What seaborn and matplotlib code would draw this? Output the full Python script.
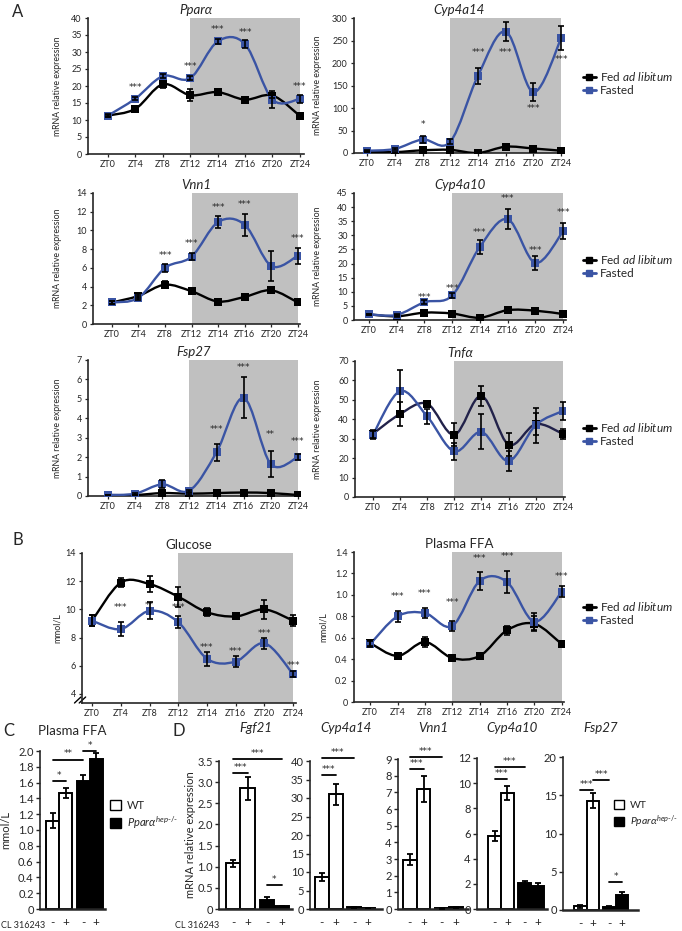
import numpy as np
import pandas as pd
import matplotlib
matplotlib.use("Agg")
import matplotlib.pyplot as plt
from matplotlib.path import Path
from matplotlib.patches import PathPatch, Patch
from matplotlib.lines import Line2D
import seaborn as sns

sns.set_style("ticks")
plt.rcParams['font.family'] = ['Lato', 'DejaVu Sans']
plt.rcParams['mathtext.fontset'] = 'custom'
plt.rcParams['mathtext.rm'] = 'Lato'
plt.rcParams['mathtext.it'] = 'Lato:italic'
NARROW = ['Liberation Sans Narrow', 'Lato', 'DejaVu Sans']
STAR_FONT = ['DejaVu Sans']

W, H = 682, 931
BLUE = '#3a54a4'
GREY = '#c0c0c0'

# ---------------- data: time courses (A, B) ----------------
zt = ['ZT0', 'ZT4', 'ZT8', 'ZT12', 'ZT14', 'ZT16', 'ZT20', 'ZT24']

ppara_fed = [11.3, 13.3, 20.5, 17.3, 18.2, 16.0, 17.2, 11.2]
ppara_fed_err = [0.4, 0.7, 1.0, 1.8, 0.5, 0.4, 0.8, 0.6]
ppara_fast = [11.3, 16.3, 22.9, 22.3, 33.1, 32.3, 16.0, 16.2]
ppara_fast_err = [0.3, 0.5, 0.6, 0.6, 0.8, 1.2, 2.5, 1.3]
ppara_stars = ['', '***', '', '***', '***', '***', '', '***']
ppara_star_y = [0, 19.6, 0, 25.7, 36.5, 35.6, 0, 20.0]

cyp14_fed = [3, 2, 6, 7, 0, 14, 10, 5]
cyp14_fed_err = [1, 1, 2, 2, 1, 3, 2, 2]
cyp14_fast = [5, 9, 30, 25, 172, 270, 135, 255]
cyp14_fast_err = [2, 3, 8, 6, 18, 22, 20, 27]
cyp14_stars = ['', '', '*', '', '***', '***', '***', '***']
cyp14_star_y = [0, 0, 63, 0, 224, 224, 100, 207]

vnn1_fed = [2.3, 3.0, 4.2, 3.5, 2.4, 2.9, 3.6, 2.3]
vnn1_fed_err = [0.15, 0.2, 0.4, 0.2, 0.2, 0.3, 0.2, 0.2]
vnn1_fast = [2.3, 2.8, 6.0, 7.2, 10.9, 10.6, 6.2, 7.3]
vnn1_fast_err = [0.15, 0.2, 0.4, 0.4, 0.6, 1.2, 1.6, 0.85]
vnn1_stars = ['', '', '***', '***', '***', '***', '', '***']
vnn1_star_y = [0, 0, 7.3, 8.6, 12.5, 12.8, 0, 9.1]

cyp10_fed = [2.0, 1.3, 2.6, 2.3, 0.8, 3.5, 3.3, 2.1]
cyp10_fed_err = [0.3, 0.3, 0.4, 0.4, 0.3, 0.5, 0.5, 0.4]
cyp10_fast = [2.0, 1.8, 6.3, 8.7, 26.0, 35.7, 20.2, 31.5]
cyp10_fast_err = [0.3, 0.4, 0.8, 1.0, 2.5, 3.5, 2.5, 2.8]
cyp10_stars = ['', '', '***', '***', '***', '***', '***', '***']
cyp10_star_y = [0, 0, 8.0, 11.2, 31.0, 43.0, 24.8, 38.0]

fsp27_fed = [0.05, 0.05, 0.15, 0.12, 0.15, 0.18, 0.15, 0.05]
fsp27_fed_err = [0.02, 0.02, 0.1, 0.05, 0.05, 0.06, 0.06, 0.03]
fsp27_fast = [0.05, 0.12, 0.6, 0.28, 2.25, 5.05, 1.65, 2.0]
fsp27_fast_err = [0.02, 0.05, 0.2, 0.05, 0.45, 1.05, 0.65, 0.15]
fsp27_stars = ['', '', '', '', '***', '***', '**', '***']
fsp27_star_y = [0, 0, 0, 0, 3.43, 6.62, 3.14, 2.8]

tnfa_fed = [32.5, 42.7, 48.0, 32.0, 52.0, 27.0, 37.5, 32.5]
tnfa_fed_err = [2, 6, 1.5, 6, 5, 6, 5.5, 2.5]
tnfa_fast = [32.0, 54.5, 41.5, 23.5, 33.5, 18.5, 37.0, 44.3]
tnfa_fast_err = [2, 11, 4, 4.5, 9, 5, 9, 4.5]
tnfa_stars = [''] * 8
tnfa_star_y = [0] * 8

glc_fed = [9.2, 11.9, 11.8, 10.9, 9.8, 9.5, 10.0, 9.2]
glc_fed_err = [0.4, 0.3, 0.6, 0.7, 0.3, 0.2, 0.7, 0.4]
glc_fast = [9.2, 8.6, 9.9, 9.1, 6.5, 6.3, 7.6, 5.4]
glc_fast_err = [0.4, 0.5, 0.6, 0.4, 0.5, 0.4, 0.4, 0.2]
glc_stars = ['', '***', '**', '***', '***', '***', '***', '***']
glc_star_y = [0, 10.1, 10.3, 10.1, 7.3, 7.0, 8.3, 6.0]

ffa_fed = [0.55, 0.43, 0.56, 0.41, 0.43, 0.67, 0.73, 0.54]
ffa_fed_err = [0.03, 0.02, 0.05, 0.02, 0.02, 0.04, 0.07, 0.03]
ffa_fast = [0.54, 0.80, 0.83, 0.71, 1.13, 1.12, 0.75, 1.03]
ffa_fast_err = [0.03, 0.05, 0.05, 0.05, 0.08, 0.10, 0.08, 0.05]
ffa_stars = ['', '***', '***', '***', '***', '***', '', '***']
ffa_star_y = [0, 0.98, 1.01, 0.93, 1.34, 1.36, 0, 1.17]

# ---------------- data: bar charts (C, D) ----------------
geno = ['WT', 'WT', 'KO', 'KO']
cl = ['-', '+', '-', '+']

c_ffa = [1.12, 1.47, 1.62, 1.90]
c_ffa_err = [0.10, 0.06, 0.07, 0.07]
c_ffa_sig = [(0, 1, 1.62, '*'), (0, 2, 1.89, '**'), (2, 3, 2.0, '*')]

fgf21 = [1.08, 2.85, 0.22, 0.06]
fgf21_err = [0.08, 0.27, 0.07, 0.02]
fgf21_sig = [(0, 1, 3.22, '***'), (0, 3, 3.55, '***'), (2, 3, 0.57, '*')]

d_cyp14 = [8.6, 31.0, 0.5, 0.3]
d_cyp14_err = [1.0, 2.8, 0.1, 0.1]
d_cyp14_sig = [(0, 1, 36.2, '***'), (0, 2, 40.8, '***')]

d_vnn1 = [2.95, 7.2, 0.05, 0.1]
d_vnn1_err = [0.33, 0.8, 0.02, 0.03]
d_vnn1_sig = [(0, 1, 8.4, '***'), (0, 2, 9.1, '***')]

d_cyp10 = [5.8, 9.25, 2.1, 1.85]
d_cyp10_err = [0.4, 0.55, 0.1, 0.2]
d_cyp10_sig = [(0, 1, 10.3, '***'), (0, 2, 11.3, '***')]

d_fsp27 = [0.5, 14.3, 0.4, 1.9]
d_fsp27_err = [0.2, 1.0, 0.1, 0.4]
d_fsp27_sig = [(0, 1, 15.7, '***'), (1, 2, 17.0, '***'), (2, 3, 3.6, '*')]

fig = plt.figure(figsize=(W / 100, H / 100), dpi=100)


def px_axes(x0, y0, x1, y1):
    return fig.add_axes([x0 / W, 1 - y1 / H, (x1 - x0) / W, (y1 - y0) / H])


def smooth_line(ax, xs, ys, color, lw=1.7):
    # Excel style smoothed connector through the measured points
    pts = np.column_stack([xs, ys]).astype(float)
    verts = [pts[0]]
    codes = [Path.MOVETO]
    for i in range(len(pts) - 1):
        p0 = pts[i - 1] if i > 0 else pts[i]
        p3 = pts[i + 2] if i + 2 < len(pts) else pts[i + 1]
        verts += [pts[i] + (pts[i + 1] - p0) / 6, pts[i + 1] - (p3 - pts[i]) / 6, pts[i + 1]]
        codes += [Path.CURVE4] * 3
    ax.add_patch(PathPatch(Path(verts, codes), fill=False, edgecolor=color, lw=lw, zorder=3))


def fmt_tick(v, dec):
    return '0' if v == 0 else f'{v:.{dec}f}'


def time_panel(box, xlim, title, fed, fed_err, fast, fast_err, ylim, ystep, stars, star_y,
               ylabel, ylab_px, dec=0, italic=True, fed_line='black', tick_fs=6.5):
    ax = px_axes(*box)
    x = np.arange(len(zt))
    ax.axvspan(3, 7, color=GREY, lw=0, zorder=0)
    smooth_line(ax, x, fed, fed_line)
    smooth_line(ax, x, fast, BLUE)
    sns.scatterplot(x=x, y=fed, marker='s', color='black', s=27, linewidth=0, zorder=4, ax=ax)
    sns.scatterplot(x=x, y=fast, marker='s', color=BLUE, s=27, linewidth=0, zorder=4, ax=ax)
    for vals, errs in [(fed, fed_err), (fast, fast_err)]:
        ax.errorbar(x, vals, yerr=errs, fmt='none', ecolor='black', elinewidth=1.2,
                    capsize=2.4, capthick=1.2, zorder=5)
    for xi, s, sy in zip(x, stars, star_y):
        if s:
            ax.text(xi, sy, s, ha='center', va='center', fontsize=6.5, family=STAR_FONT)
    ax.set_xlim(*xlim)
    ax.set_ylim(*ylim)
    ax.set_xticks(x, zt)
    ticks = np.arange(np.ceil(ylim[0] / ystep) * ystep, ylim[1] + ystep / 2, ystep)
    ax.set_yticks(ticks, [fmt_tick(t, dec) for t in ticks])
    ax.tick_params(labelsize=tick_fs, length=2.5, width=0.9, pad=2)
    for s in ['top', 'right']:
        ax.spines[s].set_visible(False)
    for s in ['left', 'bottom']:
        ax.spines[s].set_linewidth(1.2)
    ax.set_title(title, fontsize=9.5, style='italic' if italic else 'normal', pad=3)
    ax.set_ylabel(ylabel, fontsize=6.3)
    ax.yaxis.set_label_coords((ylab_px - box[0]) / (box[2] - box[0]), 0.5)
    return ax


def fed_legend(x_px, y_px):
    handles = [Line2D([], [], color='black', marker='s', ms=3.8, lw=2.0),
               Line2D([], [], color=BLUE, marker='s', ms=3.8, lw=2.0)]
    fig.legend(handles, [r'Fed $\mathit{ad\ libitum}$', 'Fasted'], loc='upper left',
               bbox_to_anchor=(x_px / W, 1 - y_px / H), frameon=False, fontsize=8.5,
               handlelength=1.1, handletextpad=0.3, labelspacing=0.2, borderpad=0,
               borderaxespad=0)


ylab = 'mRNA relative expression'

# ---------------- panel A ----------------
time_panel((88, 18, 304, 154), (-0.73, 7.15), 'Pparα', ppara_fed, ppara_fed_err, ppara_fast,
           ppara_fast_err, (0, 40), 5, ppara_stars, ppara_star_y, ylab, 62)
time_panel((354, 18, 564, 153), (-0.47, 7.1), 'Cyp4a14', cyp14_fed, cyp14_fed_err, cyp14_fast,
           cyp14_fast_err, (0, 300), 50, cyp14_stars, cyp14_star_y, ylab, 322)
fed_legend(583, 70)
time_panel((93, 193, 300, 324), (-0.71, 7.08), 'Vnn1', vnn1_fed, vnn1_fed_err, vnn1_fast,
           vnn1_fast_err, (0, 14), 2, vnn1_stars, vnn1_star_y, ylab, 62)
time_panel((354, 193, 566, 320), (-0.54, 7.1), 'Cyp4a10', cyp10_fed, cyp10_fed_err, cyp10_fast,
           cyp10_fast_err, (0, 45), 5, cyp10_stars, cyp10_star_y, ylab, 322)
fed_legend(583, 253)
time_panel((88, 360, 300, 496), (-0.74, 7.08), 'Fsp27', fsp27_fed, fsp27_fed_err, fsp27_fast,
           fsp27_fast_err, (0, 7), 1, fsp27_stars, fsp27_star_y, ylab, 62)
time_panel((355, 361, 565, 497), (-0.66, 7.08), 'Tnfα', tnfa_fed, tnfa_fed_err, tnfa_fast,
           tnfa_fast_err, (0, 70), 10, tnfa_stars, tnfa_star_y, ylab, 322, fed_line='#22224a')
fed_legend(583, 421)

# ---------------- panel B ----------------
ax_g = time_panel((82, 553, 296, 703), (-0.35, 7.1), 'Glucose', glc_fed, glc_fed_err, glc_fast,
                  glc_fast_err, (3.36, 14), 2, glc_stars, glc_star_y, 'mmol/L', 62, italic=False)
for dx in (0.0, 0.022):
    ax_g.plot([-0.035 + dx, -0.005 + dx], [0.0, 0.04], transform=ax_g.transAxes, color='black',
              lw=1.0, clip_on=False)
time_panel((354, 552, 564, 702), (-0.59, 7.08), 'Plasma FFA', ffa_fed, ffa_fed_err, ffa_fast,
           ffa_fast_err, (0, 1.4), 0.2, ffa_stars, ffa_star_y, 'mmol/L', 328, dec=1, italic=False)
fed_legend(583, 600)


# ---------------- panels C and D ----------------
def bar_panel(box, xlim, title, vals, errs, ylim, ystep, sigs, dec=0, ylabel=None, ylab_px=0,
              italic=True, title_y=728):
    ax = px_axes(*box)
    df = pd.DataFrame({'geno': geno, 'cl': cl, 'val': vals})
    sns.barplot(data=df, x='geno', y='val', hue='cl', order=['WT', 'KO'], hue_order=['-', '+'],
                width=0.86, palette=['white', 'white'], edgecolor='black', linewidth=1.4,
                errorbar=None, legend=False, ax=ax)
    bars = [ax.containers[0][0], ax.containers[1][0], ax.containers[0][1], ax.containers[1][1]]
    for b in bars[2:]:
        b.set_facecolor('black')
    centers = [b.get_x() + b.get_width() / 2 for b in bars]
    ax.errorbar(centers, vals, yerr=errs, fmt='none', ecolor='black', elinewidth=1.3,
                capsize=2.2, capthick=1.3, zorder=5)
    for i, j, y, lab in sigs:
        ax.plot([centers[i], centers[j]], [y, y], color='black', lw=1.3, clip_on=False)
        ax.text((centers[i] + centers[j]) / 2, y + (ylim[1] - ylim[0]) * 0.008, lab, ha='center',
                va='bottom', fontsize=6.5, family=STAR_FONT)
    ax.set_xlim(*xlim)
    ax.set_ylim(*ylim)
    ax.set_xticks(centers, cl)
    ticks = np.arange(0, ylim[1] + ystep / 2, ystep)
    ax.set_yticks(ticks, [fmt_tick(t, dec) for t in ticks])
    ax.tick_params(axis='x', length=0, pad=6, labelsize=8.5)
    ax.tick_params(axis='y', length=3, width=1, pad=1.5, labelsize=8)
    for lab in ax.get_yticklabels() + ax.get_xticklabels():
        lab.set_family(NARROW)
    for s in ['top', 'right']:
        ax.spines[s].set_visible(False)
    ax.spines['left'].set_linewidth(1.2)
    ax.spines['bottom'].set_linewidth(1.8)
    ax.set_xlabel('')
    ax.set_ylabel('')
    fig.text((box[0] + box[2]) / 2 / W, 1 - title_y / H, title, fontsize=9.5, ha='center',
             va='center', style='italic' if italic else 'normal')
    if ylabel:
        ax.set_ylabel(ylabel, fontsize=8, family=NARROW)
        ax.yaxis.set_label_coords((ylab_px - box[0]) / (box[2] - box[0]), 0.5)
    return ax


bar_panel((40, 751, 105, 909), (-0.63, 1.5), 'Plasma FFA', c_ffa, c_ffa_err, (0, 2.0), 0.2,
          c_ffa_sig, dec=1, ylabel='mmol/L', ylab_px=11, italic=False, title_y=731)
bar_panel((219, 761, 292, 909), (-0.63, 1.52), 'Fgf21', fgf21, fgf21_err, (0, 3.5), 0.5,
          fgf21_sig, dec=1, ylabel=ylab, ylab_px=196)
bar_panel((310, 761, 382, 909), (-0.58, 1.65), 'Cyp4a14', d_cyp14, d_cyp14_err, (0, 40), 5,
          d_cyp14_sig)
bar_panel((398, 759, 468, 909), (-0.58, 1.6), 'Vnn1', d_vnn1, d_vnn1_err, (0, 9), 1, d_vnn1_sig)
bar_panel((477, 758, 547, 909), (-0.8, 1.53), 'Cyp4a10', d_cyp10, d_cyp10_err, (0, 12), 2,
          d_cyp10_sig)
bar_panel((563, 757, 638, 910), (-0.81, 1.77), 'Fsp27', d_fsp27, d_fsp27_err, (0, 20), 5,
          d_fsp27_sig)

geno_handles = [Patch(facecolor='white', edgecolor='black', lw=1.0),
                Patch(facecolor='black', edgecolor='black')]
geno_labels = ['WT', r'$\mathit{Ppar\alpha}^{\mathit{hep\text{-/-}}}$']
for x_px, y_px, fs in [(110, 800, 8), (614, 800, 7.5)]:
    fig.legend(geno_handles, geno_labels, loc='upper left', bbox_to_anchor=(x_px / W, 1 - y_px / H),
               frameon=False, fontsize=fs, handlelength=1.0, handleheight=1.0, handletextpad=0.5,
               labelspacing=0.3, borderpad=0, borderaxespad=0)

for x_px in (1, 175):
    fig.text(x_px / W, 1 - 925 / H, 'CL 316243', fontsize=6.5, va='center', family=NARROW)

for lab, x_px, y_px in [('A', 12, 12), ('B', 12, 540), ('C', 3, 731), ('D', 173, 731)]:
    fig.text(x_px / W, 1 - y_px / H, lab, fontsize=12, va='center')

fig.savefig('out.png', dpi=100)
